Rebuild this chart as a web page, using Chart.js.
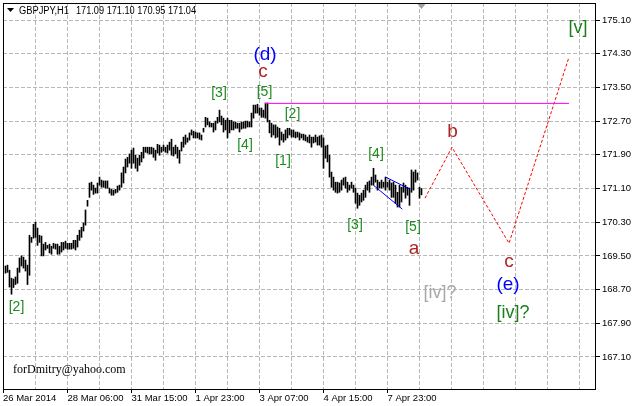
<!DOCTYPE html>
<html>
<head>
<meta charset="utf-8">
<title>GBPJPY,H1</title>
<script src="https://cdn.jsdelivr.net/npm/chart.js@4.4.1/dist/chart.umd.min.js"></script>
<style>
  html, body { margin: 0; padding: 0; background: #fff; }
</style>
</head>
<body>
<canvas id="chart" width="633" height="406"></canvas>
<script>
// H1 bars, high / low, oldest first
const highs = [
  169.26, 169.28, 169.16, 168.97, 168.95, 169.00, 169.21, 169.45, 169.50, 169.47, 169.40, 169.28,
  169.99, 169.94, 170.25, 170.30, 170.16, 169.99, 169.97, 169.78, 169.82, 169.75, 169.78, 169.73,
  169.80, 169.78, 169.78, 169.73, 169.82, 169.82, 169.85, 169.80, 169.80, 169.80, 169.87, 169.87,
  169.99, 170.11, 170.18, 170.28, 170.59, 170.82, 171.23, 171.25, 171.18, 171.11, 171.23, 171.37, 171.30, 171.28,
  171.28, 171.28, 171.11, 171.08, 171.06, 171.08, 171.16, 171.18, 171.47, 171.61,
  171.80, 171.84, 171.92, 172.01, 172.06, 171.89, 171.82, 171.89, 171.96, 172.08,
  172.08, 172.08, 172.08, 172.08, 172.06, 172.01, 172.15, 172.13, 172.08, 172.13,
  172.08, 172.13, 172.20, 172.27, 172.08, 172.13, 172.08, 172.01, 172.20, 172.32,
  172.37, 172.30, 172.42, 172.49, 172.46, 172.44, 172.42, 172.42, 172.37, 172.53,
  172.79, 172.77, 172.68, 172.65,
  172.65, 172.70, 172.79, 172.96, 172.82, 172.77, 172.72, 172.77, 172.72, 172.72,
  172.68, 172.68, 172.65, 172.65, 172.68, 172.68, 172.70, 172.70, 172.68, 172.89,
  173.08, 173.08, 173.10, 173.01, 173.01, 172.96, 173.13, 173.13, 172.72, 172.65,
  172.61, 172.61, 172.56, 172.53, 172.44, 172.39, 172.49, 172.53, 172.53, 172.49,
  172.49, 172.44, 172.44, 172.42, 172.39, 172.39, 172.37, 172.32, 172.37, 172.32,
  172.32, 172.37, 172.32,
  172.35, 172.37, 172.30, 172.11, 172.13, 171.89, 171.49, 171.37, 171.25, 171.25,
  171.23, 171.30, 171.35, 171.37, 171.25, 171.18, 171.25, 171.18, 171.11, 170.99,
  170.94, 170.99, 171.06, 171.18, 171.25, 171.28, 171.37, 171.58, 171.42, 171.30,
  171.25, 171.30, 171.25, 171.37, 171.25, 171.30, 171.23, 171.25, 171.18, 171.01,
  171.18, 171.13, 171.23, 171.18, 171.13, 171.11, 171.54, 171.49, 171.54, 171.47,
  171.13, 171.10
];
const lows = [
  169.09, 169.11, 168.76, 168.59, 168.75, 168.82, 168.85, 169.11, 169.26, 169.21, 169.14, 168.82,
  169.04, 169.82, 169.92, 169.94, 169.75, 169.82, 169.50, 169.50, 169.64, 169.68, 169.57, 169.54,
  169.68, 169.66, 169.54, 169.54, 169.59, 169.64, 169.68, 169.66, 169.66, 169.66, 169.68, 169.64,
  169.71, 169.87, 169.94, 170.09, 170.23, 170.68, 170.89, 171.06, 170.96, 170.99, 170.99, 171.18, 171.13, 171.13,
  171.11, 171.11, 170.99, 170.94, 170.94, 170.99, 171.01, 171.06, 171.13, 171.23,
  171.47, 171.61, 171.70, 171.58, 171.70, 171.58, 171.51, 171.65, 171.73, 171.82,
  171.96, 171.94, 171.92, 171.92, 171.84, 171.77, 171.94, 171.89, 171.96, 171.99,
  171.96, 171.94, 172.01, 171.89, 171.87, 171.92, 171.82, 171.70, 171.99, 172.08,
  172.15, 172.20, 172.25, 172.37, 172.30, 172.30, 172.30, 172.27, 172.25, 172.44,
  172.56, 172.61, 172.56, 172.56,
  172.44, 172.49, 172.65, 172.68, 172.61, 172.44, 172.49, 172.30, 172.42, 172.49,
  172.49, 172.53, 172.53, 172.44, 172.51, 172.53, 172.53, 172.56, 172.56, 172.56,
  172.77, 172.89, 172.89, 172.84, 172.79, 172.79, 172.77, 172.68, 172.42, 172.32,
  172.37, 172.30, 172.32, 172.13, 172.25, 172.20, 172.25, 172.30, 172.37, 172.32,
  172.32, 172.30, 172.32, 172.25, 172.30, 172.25, 172.23, 172.20, 172.18, 172.08,
  172.18, 172.20, 172.13,
  172.13, 172.08, 171.58, 171.82, 171.73, 171.37, 171.13, 171.06, 171.01, 170.99,
  171.01, 171.06, 171.18, 171.11, 171.01, 171.06, 171.11, 171.01, 170.75, 170.63,
  170.70, 170.78, 170.82, 170.89, 171.06, 171.01, 171.18, 171.18, 171.25, 171.06,
  171.11, 171.11, 171.13, 171.06, 171.13, 171.06, 170.89, 170.89, 170.75, 170.66,
  170.66, 170.78, 171.01, 170.87, 170.94, 170.70, 171.01, 171.06, 171.25, 171.30,
  170.87, 170.95
];

// time axis: labels sit on bar numbers, grid every 16 bars
const timeLabels = ['26 Mar 2014', '28 Mar 06:00', '31 Mar 15:00', '1 Apr 23:00', '3 Apr 07:00', '4 Apr 15:00', '7 Apr 23:00'];
const timeBars = [-1.25, 31, 63, 95, 127, 159, 191];
const gridBars = [15, 31, 47, 63, 79, 95, 111, 127, 143, 159, 175, 191, 207, 223, 239, 255, 271, 287];
const priceTicks = [167.10, 167.90, 168.70, 169.50, 170.30, 171.10, 171.90, 172.70, 173.50, 174.30, 175.10];

// drawn objects
const forecastBars = [209.75, 223.25, 251.75, 281.75];
const forecastPrices = [170.87, 172.08, 169.80, 174.22];
const levelBars = [129.75, 281.75];
const levelPrices = [173.12, 173.12];
const wedgeUpBars = [190.1, 201.9];
const wedgeUpPrices = [171.37, 171.09];
const wedgeLoBars = [183.9, 198.4];
const wedgeLoPrices = [171.18, 170.61];

// wave marks (text, bar, price at baseline, kind)
const waveText  = ['(d)', 'c', '[5]', '[3]', '[2]', '[4]', '[1]', '[4]', '[3]', '[5]', 'a', 'b', 'c', '(e)', '[iv]?', '[iv]?', '[v]', '[2]'];
const waveBar   = [129.75, 128.75, 129.5, 106.75, 143.5, 119.75, 138.75, 185.25, 174.75, 203.75, 204.25, 223.5, 251.75, 251.25, 253.75, 217.25, 286.25, 5.5];
const wavePrice = [174.15, 173.75, 173.30, 173.28, 172.77, 172.04, 171.65, 171.82, 170.15, 170.10, 169.54, 172.32, 169.23, 168.69, 168.02, 168.50, 174.79, 168.20];
const waveKind  = ['minor', 'sub', 'micro', 'micro', 'micro', 'micro', 'micro', 'micro', 'micro', 'micro', 'sub', 'sub', 'sub', 'minor', 'major', 'alt', 'major', 'micro'];

const symbolText = 'GBPJPY,H1';
const quoteText = '171.09 171.10 170.95 171.04';
const mailText = 'forDmitry@yahoo.com';

const kindStyle = {
  minor: { font: '19px "Liberation Sans", Arial, sans-serif', color: '#0000ff' },
  sub:   { font: '19px "Liberation Sans", Arial, sans-serif', color: '#b22222' },
  micro: { font: '14px "Liberation Sans", Arial, sans-serif', color: '#1f8a1f' },
  major: { font: '18px "Liberation Sans", Arial, sans-serif', color: '#1a7f1a' },
  alt:   { font: '18px "Liberation Sans", Arial, sans-serif', color: '#a8a8a8' }
};

const axisFont = { family: '"Liberation Sans", Arial, sans-serif', size: 9.5 };
const clear = 'rgba(0,0,0,0)';

const pts = (xs, ys) => xs.map((x, i) => ({ x: x, y: ys[i] }));
const n = Math.min(highs.length, lows.length);
const ohlc = [];
for (let i = 0; i < n; i++) ohlc.push({ x: i, y: [lows[i], highs[i]] });

const lineSet = (data, color, dash) => ({
  type: 'line',
  data: data,
  borderColor: color,
  borderWidth: 1,
  borderDash: dash || [],
  pointRadius: 0,
  tension: 0,
  order: 0
});

const overlay = {
  id: 'overlay',
  beforeDraw(chart) {
    const ctx = chart.ctx;
    ctx.save();
    ctx.fillStyle = '#fff';
    ctx.fillRect(0, 0, chart.width, chart.height);
    ctx.restore();
  },
  beforeDatasetsDraw(chart) {
    const { ctx, chartArea: a, scales: { x, y } } = chart;
    ctx.save();
    ctx.lineWidth = 1;

    // dotted grid
    ctx.strokeStyle = '#b8b8b8';
    ctx.setLineDash([4, 2]);
    priceTicks.forEach(v => {
      const py = Math.floor(y.getPixelForValue(v)) + 0.5;
      ctx.beginPath();
      ctx.moveTo(a.left, py);
      ctx.lineTo(a.right, py);
      ctx.stroke();
    });
    gridBars.forEach(v => {
      const px = Math.floor(x.getPixelForValue(v)) + 0.5;
      ctx.beginPath();
      ctx.moveTo(px, a.top);
      ctx.lineTo(px, a.bottom);
      ctx.stroke();
    });

    // tick marks
    ctx.setLineDash([]);
    ctx.strokeStyle = '#000';
    ctx.beginPath();
    priceTicks.forEach(v => {
      const py = Math.floor(y.getPixelForValue(v)) + 0.5;
      ctx.moveTo(a.right, py);
      ctx.lineTo(a.right + 5, py);
    });
    timeBars.forEach(v => {
      const px = Math.floor(x.getPixelForValue(v)) + 0.5;
      ctx.moveTo(px, a.bottom);
      ctx.lineTo(px, a.bottom + 4);
    });
    ctx.stroke();
    ctx.restore();
  },
  afterDraw(chart) {
    const { ctx, chartArea: a, scales: { x, y } } = chart;
    ctx.save();

    // wave counts
    ctx.textAlign = 'center';
    ctx.textBaseline = 'alphabetic';
    waveText.forEach((t, i) => {
      const st = kindStyle[waveKind[i]];
      ctx.font = st.font;
      ctx.fillStyle = st.color;
      ctx.fillText(t, x.getPixelForValue(waveBar[i]), y.getPixelForValue(wavePrice[i]));
    });

    // frame
    ctx.strokeStyle = '#000';
    ctx.lineWidth = 1;
    ctx.strokeRect(a.left + 0.5, a.top + 0.5, a.right - a.left, a.bottom - a.top);

    // header
    ctx.fillStyle = '#000';
    ctx.beginPath();
    ctx.moveTo(a.left + 4, a.top + 5);
    ctx.lineTo(a.left + 11, a.top + 5);
    ctx.lineTo(a.left + 7.5, a.top + 9);
    ctx.closePath();
    ctx.fill();
    ctx.textAlign = 'left';
    ctx.font = '10px "Liberation Sans", Arial, sans-serif';
    ctx.fillText(symbolText, a.left + 16, a.top + 11, 50);
    ctx.fillText(quoteText, a.left + 73, a.top + 11, 120);

    // shift marker
    const sx = x.getPixelForValue(n - 1);
    ctx.fillStyle = '#a0a0a0';
    ctx.beginPath();
    ctx.moveTo(sx - 4, a.top + 1);
    ctx.lineTo(sx + 4, a.top + 1);
    ctx.lineTo(sx, a.top + 6);
    ctx.closePath();
    ctx.fill();

    // mail
    ctx.fillStyle = '#000';
    ctx.font = '12px "Liberation Serif", "Times New Roman", serif';
    ctx.fillText(mailText, a.left + 10, a.bottom - 16);
    ctx.restore();
  }
};

new Chart(document.getElementById('chart'), {
  type: 'bar',
  data: {
    datasets: [
      { type: 'bar', data: ohlc, backgroundColor: '#000', borderWidth: 0, barThickness: 1, grouped: false, order: 1 },
      lineSet(pts(levelBars, levelPrices), '#ff00ff'),
      lineSet(pts(wedgeUpBars, wedgeUpPrices), '#0000ff'),
      lineSet(pts(wedgeLoBars, wedgeLoPrices), '#0000ff'),
      lineSet(pts(forecastBars, forecastPrices), '#ff0000', [3, 2])
    ]
  },
  options: {
    responsive: false,
    animation: false,
    events: [],
    layout: { padding: { left: 3, top: 3, right: 0, bottom: 0 }, autoPadding: false },
    plugins: { legend: { display: false }, tooltip: { enabled: false } },
    scales: {
      x: {
        type: 'linear',
        position: 'bottom',
        offset: false,
        min: -1.25,
        max: 294.75,
        afterBuildTicks: s => { s.ticks = timeBars.map(v => ({ value: v })); },
        afterFit: s => { s.height = 17; s.paddingLeft = 0; s.paddingRight = 0; },
        grid: { offset: false, drawOnChartArea: false, color: clear, tickColor: clear, tickLength: 4 },
        border: { display: false },
        ticks: {
          autoSkip: false,
          maxRotation: 0,
          align: 'start',
          padding: 0,
          color: '#000',
          font: axisFont,
          callback: v => {
            const k = timeBars.indexOf(v);
            return k >= 0 ? timeLabels[k] : '';
          }
        }
      },
      y: {
        type: 'linear',
        position: 'right',
        min: 166.34,
        max: 175.5036,
        afterBuildTicks: s => { s.ticks = priceTicks.map(v => ({ value: v })); },
        afterFit: s => { s.width = 38; s.paddingTop = 0; s.paddingBottom = 0; },
        grid: { drawOnChartArea: false, color: clear, tickColor: clear, tickLength: 5 },
        border: { display: false },
        ticks: {
          padding: 2,
          color: '#000',
          font: axisFont,
          callback: v => v.toFixed(2)
        }
      }
    }
  },
  plugins: [overlay]
});
</script>
</body>
</html>
